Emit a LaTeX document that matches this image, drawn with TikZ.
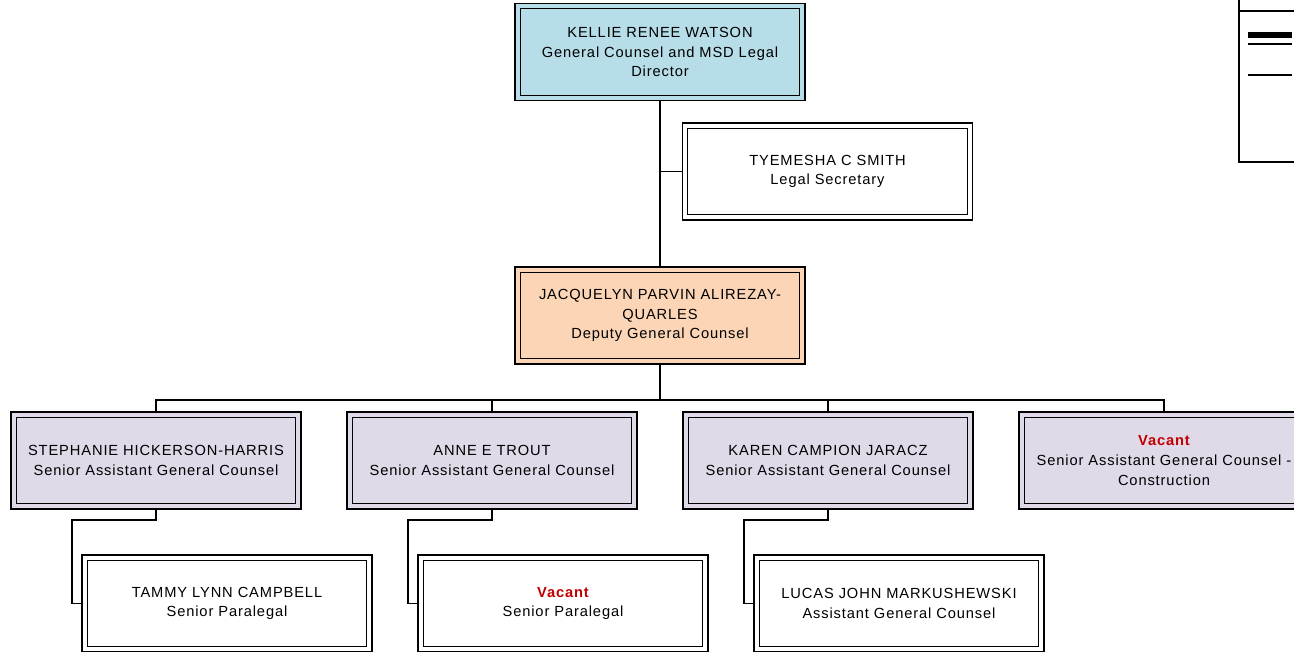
\documentclass[tikz,border=0pt]{standalone}
\usepackage{fontspec}
\setmainfont[LetterSpace=6]{Liberation Sans}
\usepackage{tikz}
\usetikzlibrary{positioning, calc}

\definecolor{topblue}{RGB}{183,221,232}
\definecolor{deppeach}{RGB}{251,213,181}
\definecolor{saglilac}{RGB}{223,217,232}
\definecolor{vacred}{RGB}{192,0,0}

\tikzset{
  orgbox/.style={draw, line width=1.4pt, fill=white, minimum width=217.5pt, minimum height=72.75pt,
    inner sep=0pt, align=center, font=\fontsize{11}{14.7}\selectfont,
    path picture={\draw[line width=0.8pt] ([shift={(4pt,4pt)}]path picture bounding box.south west)
      rectangle ([shift={(-4pt,-4pt)}]path picture bounding box.north east);}},
  link/.style={line width=1pt},
}
\newcommand{\vac}{{\bfseries\color{vacred}Vacant}}

\begin{document}
\begin{tikzpicture}[x=0.75pt, y=-0.75pt]
    \useasboundingbox (0,0) rectangle (1294,652);
    \clip (0,0) rectangle (1294,652);

    \node[orgbox, fill=topblue] (watson) at (660,52) {KELLIE RENEE WATSON\\General Counsel and MSD Legal\\Director};
    \node[orgbox] (smith) at (827.5,171.5) {TYEMESHA C SMITH\\Legal Secretary};
    \node[orgbox, fill=deppeach] (quarles) at (660,315.5) {JACQUELYN PARVIN ALIREZAY-\\QUARLES\\Deputy General Counsel};

    \node[orgbox, fill=saglilac] (harris) at (156,460.5) {STEPHANIE HICKERSON-HARRIS\\Senior Assistant General Counsel};
    \node[orgbox, fill=saglilac] (trout) at (492,460.5) {ANNE E TROUT\\Senior Assistant General Counsel};
    \node[orgbox, fill=saglilac] (jaracz) at (828,460.5) {KAREN CAMPION JARACZ\\Senior Assistant General Counsel};
    \node[orgbox, fill=saglilac] (vacsagc) at (1164,460.5) {\vac\\Senior Assistant General Counsel -\\Construction};

    \node[orgbox] (campbell) at (227,603.5) {TAMMY LYNN CAMPBELL\\Senior Paralegal};
    \node[orgbox] (vacpara) at (563,603.5) {\vac\\Senior Paralegal};
    \node[orgbox] (markus) at (899,603.5) {LUCAS JOHN MARKUSHEWSKI\\Assistant General Counsel};

    \draw[link] (watson.south) -- (quarles.north);
    \draw[link] (watson.south |- smith.west) -- (smith.west);

    \coordinate (bus) at (660,400);
    \draw[link] (quarles.south) -- (bus);
    \foreach \n in {harris,trout,jaracz,vacsagc}
        \draw[link] (bus) -| (\n.north);

    \draw[link] (harris.south) -- ++(0,10) -- ++(-84,0) |- (campbell.west);
    \draw[link] (trout.south) -- ++(0,10) -- ++(-84,0) |- (vacpara.west);
    \draw[link] (jaracz.south) -- ++(0,10) -- ++(-84,0) |- (markus.west);

    \draw[line width=1.4pt] (1239,-5) rectangle (1310,162);
    \draw[line width=1.2pt] (1239,11) -- (1294,11);
    \draw[line width=4.5pt] (1248,35.5) -- (1292,35.5);
    \draw[line width=1.2pt] (1248,44) -- (1292,44);
    \draw[line width=0.8pt] (1248,75) -- (1292,75);
\end{tikzpicture}
\end{document}
